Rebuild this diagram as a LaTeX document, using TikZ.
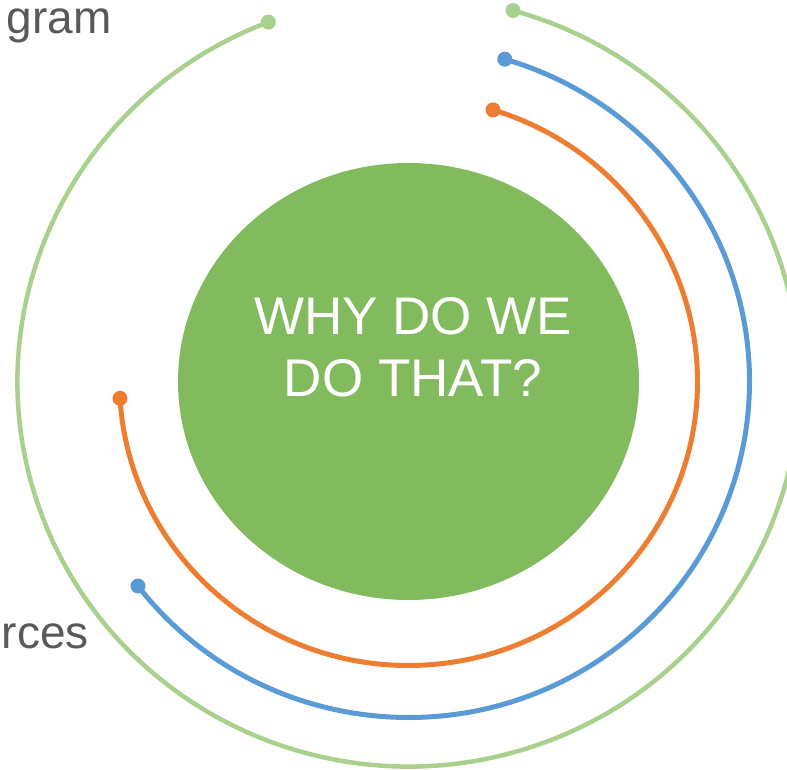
\documentclass[tikz,border=0pt]{standalone}
\usepackage{fontspec}
\setmainfont{Liberation Sans}
\usetikzlibrary{shapes.geometric}
\definecolor{hubgreen}{HTML}{82BB5E}
\definecolor{lightgreen}{HTML}{A9D18E}
\definecolor{arcblue}{HTML}{5B9BD5}
\definecolor{arcorange}{HTML}{ED7D31}
\definecolor{labelgray}{HTML}{595959}
\tikzset{
  arcline/.style={line width=5pt},
  dotmark/.style={circle, inner sep=0pt, minimum size=15pt, fill=#1},
  sidelabel/.style={text=labelgray, font=\fontsize{46}{55}\selectfont, inner sep=0pt, text height=26pt, text depth=8pt},
  hubtext/.style={text=white, align=center, font=\fontsize{53}{62}\selectfont, inner sep=0pt}
}
\begin{document}
\begin{tikzpicture}[x=1pt,y=1pt]
\useasboundingbox (0,0) rectangle (787,769);
\coordinate (c) at (408.5,387.5);
% central ellipse
\node[ellipse, fill=hubgreen, minimum width=461pt, minimum height=437pt, inner sep=0pt] (hub) at (c) {};
\node[hubtext] (why) at (413,421.5) {WHY DO WE\\DO THAT?};
% green outer arc
\draw[lightgreen, line width=4.5pt] ([shift={(111:391 and 385)}]c) coordinate (g1)
  arc[start angle=111, end angle=434.5, x radius=391, y radius=385] coordinate (g2);
\node[dotmark=lightgreen] (gd1) at (g1) {};
\node[dotmark=lightgreen] (gd2) at (g2) {};
% blue arc
\draw[arcblue, arcline] ([shift={(217.5:341 and 336)}]c) coordinate (b1)
  arc[start angle=217.5, end angle=433.6, x radius=341, y radius=336] coordinate (b2);
\node[dotmark=arcblue] (bd1) at (b1) {};
\node[dotmark=arcblue] (bd2) at (b2) {};
% orange arc
\draw[arcorange, arcline] ([shift={(183.4:289 and 284)}]c) coordinate (o1)
  arc[start angle=183.4, end angle=433, x radius=289, y radius=284] coordinate (o2);
\node[dotmark=arcorange] (od1) at (o1) {};
\node[dotmark=arcorange] (od2) at (o2) {};
% side labels
\node[sidelabel, anchor=base east] (lab1) at (112,735) {gram};
\node[sidelabel, anchor=base east] (lab2) at (89,121) {rces};
\end{tikzpicture}
\end{document}
